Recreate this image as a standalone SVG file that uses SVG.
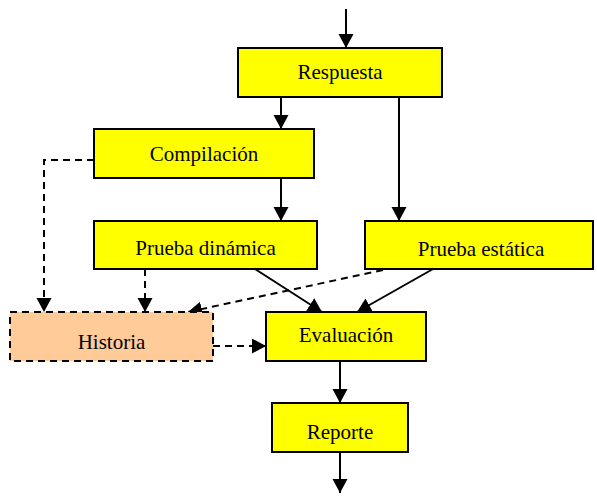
<svg xmlns="http://www.w3.org/2000/svg" width="597" height="497" viewBox="0 0 597 497">
<defs>
<marker id="ah" markerUnits="userSpaceOnUse" markerWidth="15" markerHeight="16" refX="14" refY="7.5" orient="auto">
<path d="M0,0 L14,7.5 L0,15 z" fill="#000"/>
</marker>
<style>
.box{fill:#FFFF00;stroke:#000;stroke-width:2}
.hist{fill:#FFCC99;stroke:#000;stroke-width:2;stroke-dasharray:7,5}
.lbl{font-family:"Liberation Serif","Times New Roman",serif;font-size:21px;fill:#000;text-anchor:middle}
.c{fill:none;stroke:#000;stroke-width:2;marker-end:url(#ah)}
.d{stroke-dasharray:7,5}
</style>
</defs>
<rect width="597" height="497" fill="#fff"/>
<g id="connectors">
<path class="c" d="M346,9 L346,48"/>
<path class="c" d="M281,97 L281,129"/>
<path class="c" d="M399,97 L399,221"/>
<path class="c" d="M281,178 L281,221"/>
<path class="c d" d="M94,160 L44,160 L44,312"/>
<path class="c d" d="M145,269 L145,312"/>
<path class="c d" d="M383,270 L188,312"/>
<path class="c d" d="M213,346 L266,346"/>
<path class="c" d="M255,269 L322,312"/>
<path class="c" d="M433,269 L357,312"/>
<path class="c" d="M340,361 L340,403"/>
<path class="c" d="M340,452 L340,493"/>
</g>
<g id="respuesta"><rect class="box" x="238" y="48" width="204" height="49"/><text class="lbl" x="340" y="79">Respuesta</text></g>
<g id="compilacion"><rect class="box" x="94" y="129" width="220" height="49"/><text class="lbl" x="204" y="161">Compilación</text></g>
<g id="prueba-dinamica"><rect class="box" x="94" y="221" width="223" height="48"/><text class="lbl" x="205.5" y="255">Prueba dinámica</text></g>
<g id="prueba-estatica"><rect class="box" x="365" y="221" width="228" height="48"/><text class="lbl" x="481" y="256">Prueba estática</text></g>
<g id="historia"><rect class="hist" x="10" y="312" width="203" height="49"/><text class="lbl" x="111.5" y="349">Historia</text></g>
<g id="evaluacion"><rect class="box" x="266" y="312" width="160" height="49"/><text class="lbl" x="346" y="342">Evaluación</text></g>
<g id="reporte"><rect class="box" x="272" y="403" width="136" height="49"/><text class="lbl" x="340" y="439">Reporte</text></g>
</svg>
